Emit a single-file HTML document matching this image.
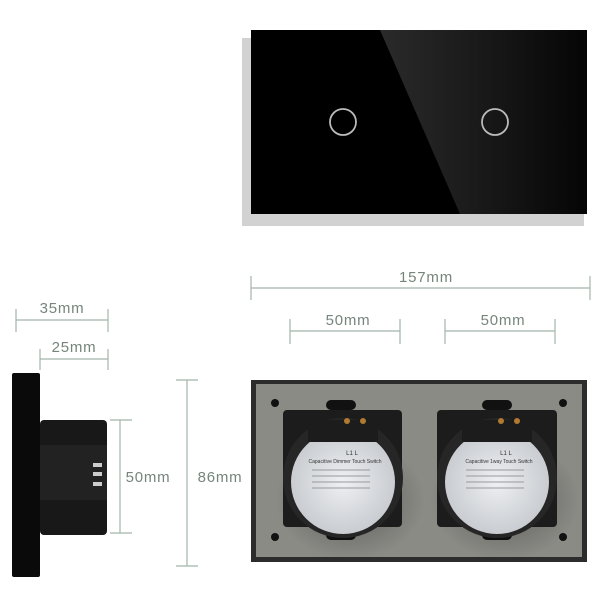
<!DOCTYPE html>
<html><head><meta charset="utf-8"><style>
html,body{margin:0;padding:0;background:#fff;}
body{width:600px;height:600px;position:relative;overflow:hidden;font-family:"Liberation Sans",sans-serif;}
</style></head><body>
<svg width="600" height="600" viewBox="0 0 600 600" xmlns="http://www.w3.org/2000/svg">
<defs>
<linearGradient id="gl" x1="0" y1="0" x2="1" y2="0">
<stop offset="0" stop-color="#2a2a2a"/><stop offset="0.6" stop-color="#151515"/><stop offset="1" stop-color="#050505"/>
</linearGradient>
<radialGradient id="lab" cx="0.5" cy="0.5" r="0.5">
<stop offset="0" stop-color="#eef0f3"/><stop offset="1" stop-color="#c9ccd0"/>
</radialGradient>
<radialGradient id="sh" cx="0.5" cy="0.5" r="0.5">
<stop offset="0" stop-color="#000" stop-opacity="0.35"/><stop offset="1" stop-color="#000" stop-opacity="0"/>
</radialGradient>
</defs>
<!-- top panel -->
<rect x="242" y="38" width="342" height="188" fill="#d2d2d2"/>
<rect x="251" y="30" width="336" height="184" fill="#000"/>
<polygon points="380,30 587,30 587,214 460,214" fill="url(#gl)"/>
<circle cx="343" cy="122" r="13" fill="none" stroke="#bbb" stroke-width="1.8"/>
<circle cx="495" cy="122" r="13" fill="none" stroke="#bbb" stroke-width="1.8"/>

<g stroke="#a3b5aa" stroke-width="1.2" fill="none">
<line x1="251" y1="288" x2="590" y2="288"/><line x1="251" y1="276" x2="251" y2="300"/><line x1="590" y1="276" x2="590" y2="300"/>
<line x1="290" y1="331" x2="400" y2="331"/><line x1="290" y1="319" x2="290" y2="344"/><line x1="400" y1="319" x2="400" y2="344"/>
<line x1="445" y1="331" x2="555" y2="331"/><line x1="445" y1="319" x2="445" y2="344"/><line x1="555" y1="319" x2="555" y2="344"/>
<line x1="16" y1="320" x2="108" y2="320"/><line x1="16" y1="309" x2="16" y2="332"/><line x1="108" y1="309" x2="108" y2="332"/>
<line x1="40" y1="359" x2="108" y2="359"/><line x1="40" y1="349" x2="40" y2="370"/><line x1="108" y1="349" x2="108" y2="370"/>
<line x1="120" y1="420" x2="120" y2="533"/><line x1="110" y1="420" x2="132" y2="420"/><line x1="110" y1="533" x2="132" y2="533"/>
<line x1="187" y1="380" x2="187" y2="566"/><line x1="176" y1="380" x2="198" y2="380"/><line x1="176" y1="566" x2="198" y2="566"/>
</g>
<g fill="#76857c" font-size="15" text-anchor="middle" letter-spacing="0.8">
<text x="426" y="282">157mm</text>
<text x="348" y="325">50mm</text>
<text x="503" y="325">50mm</text>
<text x="62" y="313">35mm</text>
<text x="74" y="352">25mm</text>
<text x="148" y="482">50mm</text>
<text x="220" y="482">86mm</text>
</g>

<!-- side view -->
<rect x="12" y="373" width="28" height="204" fill="#0a0a0a" rx="2"/>
<rect x="40" y="420" width="67" height="115" fill="#181818" rx="4"/>
<rect x="40" y="445" width="67" height="55" fill="#222"/>
<rect x="93" y="463" width="9" height="4" fill="#ccc"/>
<rect x="93" y="472" width="9" height="4" fill="#ccc"/>
<rect x="93" y="482" width="9" height="4" fill="#ccc"/>

<!-- back panel -->
<rect x="251" y="380" width="336" height="182" fill="#2c2c2c"/>
<rect x="256" y="384" width="326" height="173" fill="#8b8b86"/>
<g fill="#111">
<circle cx="275" cy="403" r="4"/><circle cx="563" cy="403" r="4"/>
<circle cx="275" cy="537" r="4"/><circle cx="563" cy="537" r="4"/>
<rect x="326" y="400" width="30" height="10" rx="5"/><rect x="482" y="400" width="30" height="10" rx="5"/>
<rect x="326" y="530" width="30" height="10" rx="5"/><rect x="482" y="530" width="30" height="10" rx="5"/>
</g>
<ellipse cx="350" cy="500" rx="75" ry="60" fill="url(#sh)"/>
<ellipse cx="505" cy="500" rx="75" ry="60" fill="url(#sh)"/>
<g fill="#1c1c1c">
<rect x="283" y="410" width="119" height="117" rx="4"/>
<rect x="437" y="410" width="120" height="117" rx="4"/>
</g>
<circle cx="343" cy="478" r="60" fill="#262626"/>
<circle cx="497" cy="478" r="60" fill="#262626"/>
<circle cx="343" cy="482" r="52" fill="url(#lab)"/>
<circle cx="497" cy="482" r="52" fill="url(#lab)"/>
<rect x="308" y="420" width="70" height="22" fill="#1c1c1c"/>
<rect x="462" y="420" width="70" height="22" fill="#1c1c1c"/>
<g fill="#b07a30"><circle cx="347" cy="421" r="3"/><circle cx="363" cy="421" r="3"/><circle cx="501" cy="421" r="3"/><circle cx="517" cy="421" r="3"/></g>
<g fill="#333" font-size="5" text-anchor="middle">
<text x="345" y="463">Capacitive Dimmer Touch Switch</text>
<text x="499" y="463">Capacitive 1way Touch Switch</text>
<text x="352" y="455" font-size="6">L1  L</text>
<text x="506" y="455" font-size="6">L1  L</text>
</g>
<g stroke="#999" stroke-width="1">
<line x1="312" y1="470" x2="370" y2="470"/><line x1="312" y1="476" x2="370" y2="476"/><line x1="312" y1="482" x2="370" y2="482"/><line x1="312" y1="488" x2="370" y2="488"/>
<line x1="466" y1="470" x2="524" y2="470"/><line x1="466" y1="476" x2="524" y2="476"/><line x1="466" y1="482" x2="524" y2="482"/><line x1="466" y1="488" x2="524" y2="488"/>
</g>
</svg>
</body></html>
